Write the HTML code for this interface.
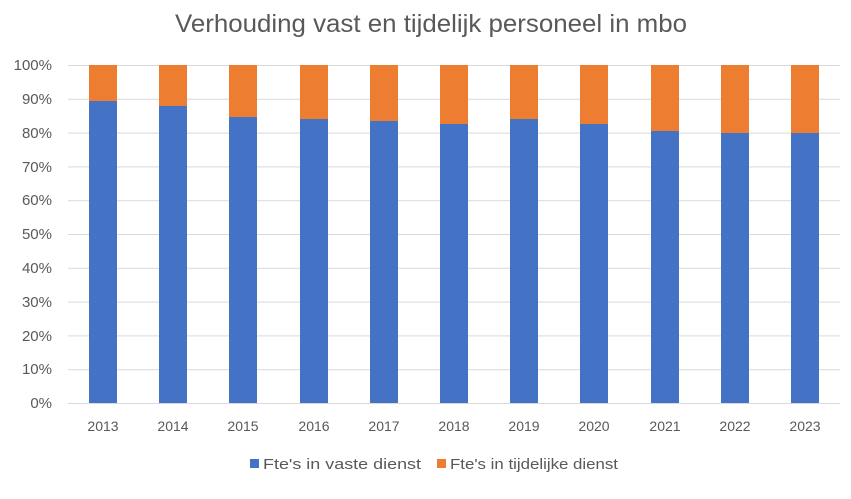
<!DOCTYPE html>
<html><head><meta charset="utf-8"><style>
body{margin:0;background:#fff;}
svg text{font-family:"Liberation Sans",sans-serif;fill:#595959;}
</style></head><body>
<svg width="851" height="494" viewBox="0 0 851 494" xmlns="http://www.w3.org/2000/svg">
<rect width="851" height="494" fill="#fff"/>
<text x="175" y="32" font-size="25" textLength="512" lengthAdjust="spacingAndGlyphs">Verhouding vast en tijdelijk personeel in mbo</text>
<g stroke="#d9d9d9" stroke-width="1">
<line x1="68" x2="840" y1="65.5" y2="65.5"/><line x1="68" x2="840" y1="99.3" y2="99.3"/>
<line x1="68" x2="840" y1="133.1" y2="133.1"/><line x1="68" x2="840" y1="166.9" y2="166.9"/>
<line x1="68" x2="840" y1="200.7" y2="200.7"/><line x1="68" x2="840" y1="234.5" y2="234.5"/>
<line x1="68" x2="840" y1="268.3" y2="268.3"/><line x1="68" x2="840" y1="302.1" y2="302.1"/>
<line x1="68" x2="840" y1="335.9" y2="335.9"/><line x1="68" x2="840" y1="369.7" y2="369.7"/>
<line x1="68" x2="840" y1="403.5" y2="403.5"/>
</g>
<g font-size="15" text-anchor="end">
<text x="52" y="70">100%</text><text x="52" y="104">90%</text><text x="52" y="138">80%</text>
<text x="52" y="172">70%</text><text x="52" y="205">60%</text><text x="52" y="239">50%</text>
<text x="52" y="273">40%</text><text x="52" y="307">30%</text><text x="52" y="341">20%</text>
<text x="52" y="374">10%</text><text x="52" y="408">0%</text>
</g>
<rect x="250" y="459" width="9" height="9" fill="#4472c4"/>
<text x="263" y="469" font-size="15" textLength="158" lengthAdjust="spacingAndGlyphs">Fte's in vaste dienst</text>
<rect x="437" y="459" width="9" height="9" fill="#ed7d31"/>
<text x="450" y="469" font-size="15" textLength="168" lengthAdjust="spacingAndGlyphs">Fte's in tijdelijke dienst</text>
<g>
<rect x="89" y="65" width="28" height="36" fill="#ed7d31"/><rect x="89" y="101" width="28" height="302" fill="#4472c4"/>
<rect x="159" y="65" width="28" height="41" fill="#ed7d31"/><rect x="159" y="106" width="28" height="297" fill="#4472c4"/>
<rect x="229" y="65" width="28" height="52" fill="#ed7d31"/><rect x="229" y="117" width="28" height="286" fill="#4472c4"/>
<rect x="300" y="65" width="28" height="54" fill="#ed7d31"/><rect x="300" y="119" width="28" height="284" fill="#4472c4"/>
<rect x="370" y="65" width="28" height="56" fill="#ed7d31"/><rect x="370" y="121" width="28" height="282" fill="#4472c4"/>
<rect x="440" y="65" width="28" height="59" fill="#ed7d31"/><rect x="440" y="124" width="28" height="279" fill="#4472c4"/>
<rect x="510" y="65" width="28" height="54" fill="#ed7d31"/><rect x="510" y="119" width="28" height="284" fill="#4472c4"/>
<rect x="580" y="65" width="28" height="59" fill="#ed7d31"/><rect x="580" y="124" width="28" height="279" fill="#4472c4"/>
<rect x="651" y="65" width="28" height="66" fill="#ed7d31"/><rect x="651" y="131" width="28" height="272" fill="#4472c4"/>
<rect x="721" y="65" width="28" height="68" fill="#ed7d31"/><rect x="721" y="133" width="28" height="270" fill="#4472c4"/>
<rect x="791" y="65" width="28" height="68" fill="#ed7d31"/><rect x="791" y="133" width="28" height="270" fill="#4472c4"/>
</g>
<g font-size="14" text-anchor="middle">
<text x="103" y="431">2013</text><text x="173" y="431">2014</text><text x="243" y="431">2015</text>
<text x="314" y="431">2016</text><text x="384" y="431">2017</text><text x="454" y="431">2018</text>
<text x="524" y="431">2019</text><text x="594" y="431">2020</text><text x="665" y="431">2021</text>
<text x="735" y="431">2022</text><text x="805" y="431">2023</text>
</g>
</svg>
</body></html>
